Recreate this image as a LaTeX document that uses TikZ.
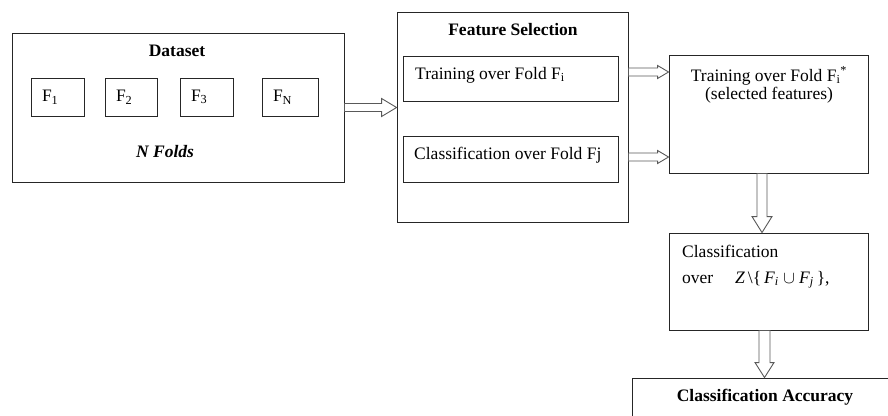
\documentclass[tikz,border=0pt]{standalone}
\usepackage{fontspec}
\setmainfont{Liberation Serif}
\usetikzlibrary{calc,positioning}
\tikzstyle{box}=[rectangle, draw=black!85, line width=0.9pt, inner sep=0pt]
\tikzstyle{fold}=[box, align=left, inner xsep=11pt, minimum height=38pt]
\tikzstyle{hollow}=[draw=black!65, fill=white, line width=0.9pt, line join=miter]
\tikzstyle{txt}=[inner sep=0pt]
% block arrow: from, to, shaft half width, head half width, head length
\newcommand{\hollowarrow}[5]{
  \coordinate (ha-h) at ($(#2)!#5!(#1)$);
  \draw[hollow] ($(#1)!#3!90:(#2)$) -- ($(ha-h)!#3!90:(#2)$) -- ($(ha-h)!#4!90:(#2)$) -- (#2)
    -- ($(ha-h)!#4!-90:(#2)$) -- ($(ha-h)!#3!-90:(#2)$) -- ($(#1)!#3!-90:(#2)$) -- cycle;}

\begin{document}
\begin{tikzpicture}[x=1pt, y=-1pt, every node/.style={font=\fontsize{17.5}{21}\selectfont}]
\useasboundingbox (0,0) rectangle (888,415);

% dataset
\node[box, minimum width=332pt, minimum height=149pt] (data) at (178,107.5) {};
\node[txt, anchor=base] (data-t) at (177,56) {\textbf{Dataset}};
\node[fold, text width=31pt] (f1) at (57.5,97) {F\textsubscript{1}};
\node[fold, text width=30pt] (f2) at (131,97) {F\textsubscript{2}};
\node[fold, text width=31pt] (f3) at (206.5,97) {F\textsubscript{3}};
\node[fold, text width=34pt] (fn) at (290,97) {F\textsubscript{N}};
\node[txt, anchor=base] (nfolds) at (165,157) {\textbf{\textit{N Folds}}};

% feature selection
\node[box, minimum width=231pt, minimum height=210pt] (fs) at (512.5,117) {};
\node[txt, anchor=base] (fs-t) at (513,35) {\textbf{Feature Selection}};
\node[box, minimum width=215pt, minimum height=45pt] (train) at (510.5,78.5) {};
\node[txt, anchor=base west] (train-t) at (415,79) {Training over Fold F\textsubscript{i}};
\node[box, minimum width=215pt, minimum height=46pt] (cls) at (510.5,159) {};
\node[txt, anchor=base west] (cls-t) at (414,159) {Classification over Fold Fj};

% right column
\node[box, minimum width=199pt, minimum height=118pt] (sel) at (768.5,114) {};
\node[txt, anchor=base] (sel-t1) at (769,81) {Training over Fold F\textsubscript{i}\textsuperscript{*}};
\node[txt, anchor=base] (sel-t2) at (769,99) {(selected features)};
\node[box, minimum width=199pt, minimum height=97pt] (test) at (768.5,281.5) {};
\node[txt, anchor=base west] (test-t1) at (682,257) {Classification};
\node[txt, anchor=base west] (test-t2) at (682,283) {over\quad\ \textit{Z}\,\textbackslash\{\,\textit{F}\textsubscript{\textit{i}} $\cup$ \textit{F}\textsubscript{\textit{j}}\,\},};
\node[box, minimum width=268pt, minimum height=62pt] (acc) at (766,409) {};
\node[txt, anchor=base] (acc-t) at (765,401) {\textbf{Classification Accuracy}};

% arrows
\coordinate (a1e) at (data.east -| fs.west);
\coordinate (a2s) at (fs.east |- 0,72);
\coordinate (a2e) at (sel.west |- a2s);
\coordinate (a3s) at (fs.east |- 0,157);
\coordinate (a3e) at (sel.west |- a3s);
\coordinate (a4s) at ([xshift=-6.5pt]sel.south);
\coordinate (a4e) at (a4s |- test.north);
\coordinate (a5s) at ([xshift=-4pt]test.south);
\coordinate (a5e) at (a5s |- acc.north);

\hollowarrow{data.east}{a1e}{4pt}{9pt}{15pt}
\hollowarrow{a2s}{a2e}{4pt}{6.5pt}{11pt}
\hollowarrow{a3s}{a3e}{4pt}{6.5pt}{11pt}
\hollowarrow{a4s}{a4e}{5pt}{10pt}{16pt}
\hollowarrow{a5s}{a5e}{5.5pt}{9.5pt}{15pt}

\end{tikzpicture}
\end{document}
